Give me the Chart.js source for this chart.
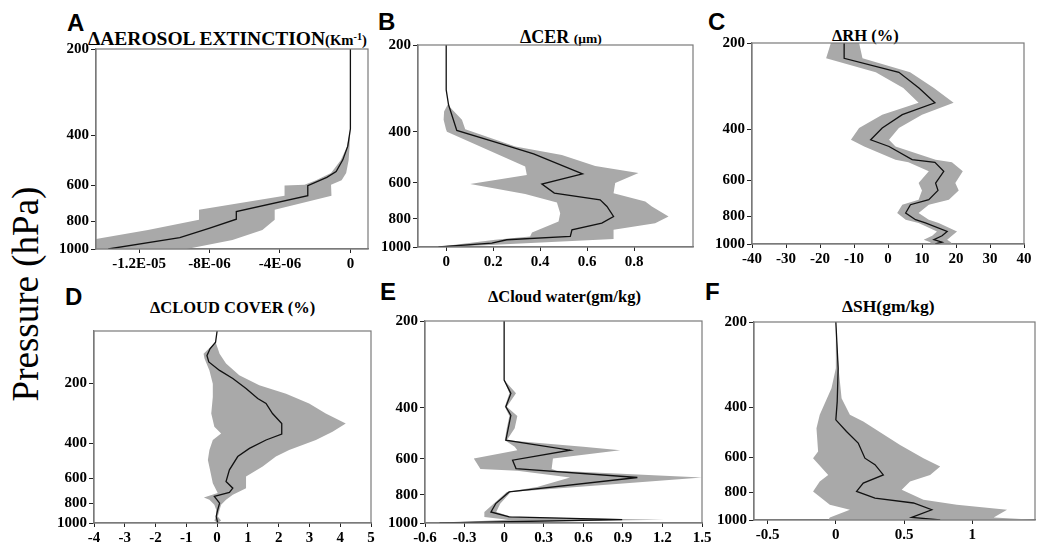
<!DOCTYPE html>
<html>
<head>
<meta charset="utf-8">
<title>Pressure profiles</title>
<script src="https://cdn.jsdelivr.net/npm/chart.js@4.4.1/dist/chart.umd.min.js"></script>
<style>
  html, body { margin: 0; padding: 0; background: #fff; }
  body { position: relative; width: 1037px; height: 545px; overflow: hidden; }
  canvas { position: absolute; }
  .letter { position: absolute; font: bold 24px "Liberation Sans", Arial, sans-serif; line-height: 1; color: #000; }
  .title { position: absolute; font-family: "Liberation Serif", "Times New Roman", serif; font-weight: bold; line-height: 1; white-space: nowrap; color: #000; }
  .title small { font-size: 0.75em; }
  .title sup { font-size: 0.7em; vertical-align: 0.5em; line-height: 0; }
  #ylab { position: absolute; left: 25px; top: 294px; font: 37px "Liberation Serif", "Times New Roman", serif; line-height: 1; white-space: nowrap; transform: translate(-50%, -50%) rotate(-90deg); }
</style>
</head>
<body>

<div id="ylab">Pressure (hPa)</div>

<div class="letter" style="left:67px;top:11px">A</div>
<div class="letter" style="left:378px;top:10px">B</div>
<div class="letter" style="left:708px;top:10px">C</div>
<div class="letter" style="left:65px;top:285px">D</div>
<div class="letter" style="left:380px;top:280px">E</div>
<div class="letter" style="left:705px;top:280px">F</div>

<div class="title" style="left:88px;top:29px;font-size:19.5px">ΔAEROSOL EXTINCTION<small>(Km<sup>-1</sup>)</small></div>
<div class="title" style="left:520px;top:28px;font-size:18px">ΔCER <small>(μm)</small></div>
<div class="title" style="left:832px;top:28px;font-size:16.5px">ΔRH (%)</div>
<div class="title" style="left:150px;top:300px;font-size:16.5px">ΔCLOUD COVER (%)</div>
<div class="title" style="left:488px;top:289px;font-size:16.5px">ΔCloud water(gm/kg)</div>
<div class="title" style="left:842px;top:298px;font-size:17.5px">ΔSH(gm/kg)</div>

<canvas id="chartA"></canvas>
<canvas id="chartB"></canvas>
<canvas id="chartC"></canvas>
<canvas id="chartD"></canvas>
<canvas id="chartE"></canvas>
<canvas id="chartF"></canvas>

<script>
// pressure levels (hPa) shared by every panel's left axis
const pressureTicks = [200, 400, 600, 800, 1000]

// A: aerosol extinction (Km-1)
const aMeanP = [200, 380, 437, 488, 536, 562, 601, 651, 740, 787, 846, 913, 1000]
const aMean = [0, 0, -0.15e-6, -0.43e-6, -0.81e-6, -1.34e-6, -2.42e-6, -2.42e-6, -6.48e-6, -6.48e-6, -7.99e-6, -9.69e-6, -13.75e-6]
const aBandP = [200, 380, 440, 490, 543, 575, 596, 600, 651, 729, 791, 858, 930, 1000]
const aLow = [0, 0, -0.2e-6, -0.55e-6, -1.1e-6, -1.95e-6, -2.6e-6, -3.74e-6, -3.74e-6, -8.6e-6, -8.6e-6, -11.5e-6, -14.8e-6, -16e-6]
const aHigh = [0, 0, -0.05e-6, -0.1e-6, -0.24e-6, -0.5e-6, -1.1e-6, -1.1e-6, -1.05e-6, -4.3e-6, -4.3e-6, -5.0e-6, -6.7e-6, -9.3e-6]
const aTicks = [-1.2e-5, -8e-6, -4e-6, 0]
const aTickLabels = ['-1.2E-05', '-8E-06', '-4E-06', '0']

// B: cloud effective radius (um)
const bMeanP = [200, 286, 322, 395, 435, 476, 558, 606, 651, 687, 724, 784, 827, 872, 919, 944, 969, 1000]
const bMean = [0, 0, 0.01, 0.045, 0.216, 0.372, 0.58, 0.407, 0.46, 0.655, 0.684, 0.712, 0.662, 0.535, 0.528, 0.258, 0.194, -0.033]
const bLowP = [322, 340, 363, 391, 399, 527, 563, 605, 655, 702, 764, 816, 891, 919, 944, 983, 1000]
const bLow = [0.006, -0.009, -0.011, -0.001, 0.003, 0.336, 0.343, 0.102, 0.336, 0.471, 0.485, 0.478, 0.365, 0.357, 0.209, 0.038, -0.04]
const bHighP = [322, 363, 391, 449, 480, 524, 555, 601, 651, 696, 724, 784, 827, 872, 908, 939, 975, 1000]
const bHigh = [0.006, 0.067, 0.081, 0.294, 0.492, 0.634, 0.818, 0.719, 0.712, 0.847, 0.875, 0.946, 0.889, 0.712, 0.712, 0.712, 0.294, 0.01]
const bTicks = [0, 0.2, 0.4, 0.6, 0.8]
const bTickLabels = ['0', '0.2', '0.4', '0.6', '0.8']

// C: relative humidity (%)
const cP = [200, 226, 253, 287, 323, 355, 395, 434, 458, 509, 520, 559, 614, 651, 701, 730, 780, 823, 845, 904, 936, 966, 986, 1000]
const cMean = [-12.9, -12.9, 3.2, 9.1, 13.8, 4.2, -1.7, -5.1, 0.3, 7.1, 13.8, 16.4, 14.0, 14.7, 12.0, 6.6, 5.2, 8.1, 11.0, 17.4, 15.9, 13.5, 15.9, 13.9]
const cLow = [-16.8, -18.2, -3.6, 4.5, 9, -1.7, -8.5, -10.9, -7, 2.2, 6, 12, 9, 10, 9, 4.2, 2.7, 5.2, 9, 14.4, 13, 10.5, 12.5, 12.5]
const cHigh = [-8.5, -7.5, 6.5, 13.5, 19.3, 10, 3.2, 0.3, 2.2, 14, 18.8, 22, 19.8, 20.8, 17.9, 12, 9, 12, 14.9, 20.3, 18.8, 17.4, 18.5, 18.8]
const cTicks = [-40, -30, -20, -10, 0, 10, 20, 30, 40]
const cTickLabels = ['-40', '-30', '-20', '-10', '0', '10', '20', '30', '40']

// D: cloud cover (%)
const dMeanP = [110, 125, 135, 146, 157, 173, 190, 213, 239, 253, 284, 319, 360, 385, 424, 466, 543, 621, 670, 704, 737, 796, 859, 927, 1000]
const dMean = [0, -0.05, -0.23, -0.33, -0.27, 0.08, 0.51, 0.94, 1.32, 1.59, 1.8, 2.1, 2.1, 1.59, 1.05, 0.67, 0.4, 0.29, 0.51, 0.4, -0.09, 0.08, 0.02, -0.03, 0.02]
const dLowP = [125, 143, 151, 173, 202, 235, 284, 331, 357, 385, 432, 485, 543, 633, 709, 746, 766, 811, 859, 927, 973, 1000]
const dLow = [-0.05, -0.44, -0.41, -0.25, -0.14, -0.14, -0.19, -0.09, 0.13, -0.14, -0.25, -0.3, -0.23, -0.14, 0.02, -0.43, -0.25, -0.09, -0.03, -0.03, -0.09, 0.02]
const dHighP = [125, 143, 160, 183, 205, 226, 253, 284, 319, 350, 385, 432, 466, 523, 586, 670, 723, 766, 811, 859, 927, 973, 1000]
const dHigh = [-0.05, 0.08, 0.29, 0.72, 1.37, 2.24, 2.99, 3.53, 4.18, 3.75, 3.21, 2.34, 1.91, 1.48, 0.94, 0.94, 0.51, 0.29, 0.13, 0.08, 0.02, 0.13, 0.02]
const dTicks = [-4, -3, -2, -1, 0, 1, 2, 3, 4, 5]
const dTickLabels = ['-4', '-3', '-2', '-1', '0', '1', '2', '3', '4', '5']

// E: cloud water (gm/kg)
const eMeanP = [200, 320, 356, 396, 424, 517, 560, 606, 648, 696, 781, 857, 916, 953, 974, 1000]
const eMean = [0, 0, 0.051, 0.013, 0.051, 0.013, 0.5, 0.064, 0.09, 1.01, 0.038, -0.064, -0.1, 0.038, 0.895, -0.49]
const eBandP = [200, 320, 356, 396, 426, 470, 517, 545, 560, 598, 650, 660, 696, 750, 781, 857, 916, 953, 974, 1000]
const eLow = [0, 0, 0.04, 0.005, 0.04, 0.02, 0.005, 0.08, 0.1, -0.23, -0.18, 0.1, 0.5, 0.25, 0.02, -0.08, -0.15, -0.15, 0.03, -0.5]
const eHigh = [0, 0, 0.09, 0.02, 0.1, 0.08, 0.02, 0.6, 0.88, 0.37, 0.36, 0.4, 1.5, 0.55, 0.05, -0.03, -0.06, 0.06, 1.21, -0.45]
const eTicks = [-0.6, -0.3, 0, 0.3, 0.6, 0.9, 1.2, 1.5]
const eTickLabels = ['-0.6', '-0.3', '0', '0.3', '0.6', '0.9', '1.2', '1.5']

// F: specific humidity (gm/kg)
const fMeanP = [200, 291, 382, 443, 487, 535, 605, 638, 693, 741, 793, 837, 871, 920, 979, 1000]
const fMean = [0, 0.017, 0.01, 0, 0.078, 0.164, 0.213, 0.287, 0.348, 0.201, 0.152, 0.287, 0.569, 0.703, 0.556, 0.765]
const fLowP = [200, 291, 343, 425, 474, 573, 605, 693, 731, 793, 883, 920, 979, 1000]
const fLow = [0, 0, -0.032, -0.118, -0.142, -0.13, -0.167, -0.056, -0.118, -0.167, -0.044, 0.103, -0.044, -0.056]
const fHighP = [200, 291, 372, 425, 449, 543, 605, 647, 693, 731, 782, 848, 883, 920, 979, 1000]
const fHigh = [0, 0.02, 0.042, 0.103, 0.201, 0.471, 0.642, 0.765, 0.691, 0.544, 0.483, 0.642, 0.887, 1.255, 1.157, 1.5]
const fTicks = [-0.5, 0, 0.5, 1]
const fTickLabels = ['-0.5', '0', '0.5', '1']


const tickFont = { family: "'Liberation Serif', 'Times New Roman', serif", size: 15, weight: 'bold' }
const bandGray = '#a9a9a9'

// box around the plotting area (top and right sides are not axes)
const framePlugin = {
  id: 'frame',
  afterDatasetsDraw(chart) {
    const { ctx, chartArea: a } = chart
    ctx.save()
    ctx.strokeStyle = '#7a7a7a'
    ctx.lineWidth = 1.2
    ctx.strokeRect(a.left, a.top, a.right - a.left, a.bottom - a.top)
    ctx.restore()
  }
}

function toPoints(p, v) {
  return p.map((pp, i) => ({ x: v[i], y: pp }))
}

function makePanel(canvasId, box, p) {
  const padL = 60, padT = 12, padR = 16, padB = 28
  const w = box.right - box.left
  const h = box.bottom - box.top
  const cv = document.getElementById(canvasId)
  cv.width = w + padL + padR
  cv.height = h + padT + padB
  cv.style.width = cv.width + 'px'
  cv.style.height = cv.height + 'px'
  cv.style.left = (box.left - padL) + 'px'
  cv.style.top = (box.top - padT) + 'px'

  return new Chart(cv, {
    type: 'line',
    data: {
      datasets: [
        { data: toPoints(p.meanP, p.mean), borderColor: '#111', borderWidth: 1.3, fill: false },
        { data: toPoints(p.lowP, p.low), borderColor: 'rgba(0,0,0,0)', borderWidth: 1, fill: false },
        { data: toPoints(p.highP, p.high), borderColor: 'rgba(0,0,0,0)', borderWidth: 1, backgroundColor: bandGray, fill: '-1' }
      ]
    },
    options: {
      responsive: false,
      animation: false,
      indexAxis: 'y',
      layout: { padding: { left: 0, top: padT, right: padR, bottom: 0 } },
      elements: { point: { radius: 0 }, line: { tension: 0 } },
      plugins: { legend: { display: false }, tooltip: { enabled: false } },
      scales: {
        x: {
          type: 'linear',
          min: p.xMin,
          max: p.xMax,
          afterBuildTicks: s => { s.ticks = p.ticks.map(v => ({ value: v })) },
          afterFit: s => { s.height = padB; s.paddingLeft = 0; s.paddingRight = 0 },
          ticks: {
            autoSkip: false, maxRotation: 0, padding: 2, color: '#000', font: tickFont,
            callback: (v, i) => p.tickLabels[i]
          },
          grid: { drawOnChartArea: false, drawTicks: true, tickLength: 4, color: '#222' },
          border: { display: true, color: '#7a7a7a', width: 1.2 }
        },
        y: {
          type: 'logarithmic',
          reverse: true,
          min: p.pMin,
          max: 1000,
          afterBuildTicks: s => { s.ticks = pressureTicks.map(v => ({ value: v })) },
          afterFit: s => { s.width = padL; s.paddingTop = 0; s.paddingBottom = 0 },
          ticks: {
            autoSkip: false, padding: 2, color: '#000', font: tickFont,
            callback: (v, i) => String(pressureTicks[i])
          },
          grid: { drawOnChartArea: false, drawTicks: true, tickLength: 5, color: '#222' },
          border: { display: true, color: '#7a7a7a', width: 1.2 }
        }
      }
    },
    plugins: [framePlugin]
  })
}

makePanel('chartA', { left: 96, top: 49, right: 368, bottom: 249 }, {
  meanP: aMeanP, mean: aMean, lowP: aBandP, low: aLow, highP: aBandP, high: aHigh,
  xMin: -1.445e-5, xMax: 1e-6, pMin: 200, ticks: aTicks, tickLabels: aTickLabels
})
makePanel('chartB', { left: 418, top: 45, right: 693, bottom: 247 }, {
  meanP: bMeanP, mean: bMean, lowP: bLowP, low: bLow, highP: bHighP, high: bHigh,
  xMin: -0.12, xMax: 1.05, pMin: 200, ticks: bTicks, tickLabels: bTickLabels
})
makePanel('chartC', { left: 752, top: 43, right: 1024, bottom: 244 }, {
  meanP: cP, mean: cMean, lowP: cP, low: cLow, highP: cP, high: cHigh,
  xMin: -40, xMax: 40, pMin: 200, ticks: cTicks, tickLabels: cTickLabels
})
makePanel('chartD', { left: 94, top: 331, right: 371, bottom: 523 }, {
  meanP: dMeanP, mean: dMean, lowP: dLowP, low: dLow, highP: dHighP, high: dHigh,
  xMin: -4, xMax: 5, pMin: 110, ticks: dTicks, tickLabels: dTickLabels
})
makePanel('chartE', { left: 425, top: 321, right: 702, bottom: 523 }, {
  meanP: eMeanP, mean: eMean, lowP: eBandP, low: eLow, highP: eBandP, high: eHigh,
  xMin: -0.6, xMax: 1.5, pMin: 200, ticks: eTicks, tickLabels: eTickLabels
})
makePanel('chartF', { left: 754, top: 322, right: 1035, bottom: 520 }, {
  meanP: fMeanP, mean: fMean, lowP: fLowP, low: fLow, highP: fHighP, high: fHigh,
  xMin: -0.6, xMax: 1.46, pMin: 200, ticks: fTicks, tickLabels: fTickLabels
})
</script>
</body>
</html>
